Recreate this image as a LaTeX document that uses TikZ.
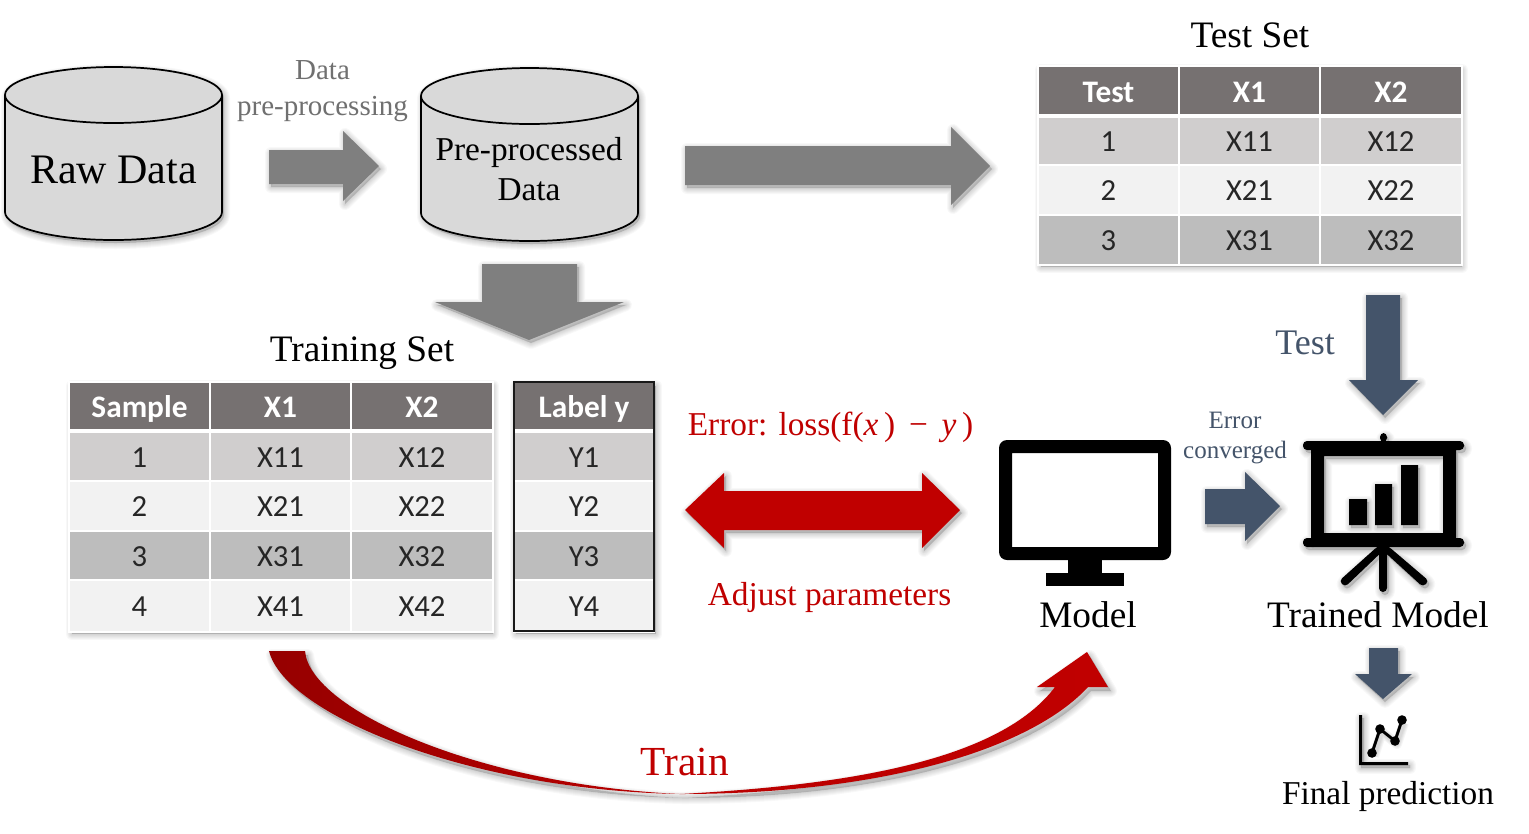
\documentclass[tikz,border=0pt]{standalone}
\usepackage{fontspec}
\setmainfont{Liberation Serif}
\newfontfamily\tablefont{Carlito}
\usetikzlibrary{calc}
\definecolor{hdr}{HTML}{767171}
\definecolor{rowa}{HTML}{D0CECE}
\definecolor{rowb}{HTML}{F2F2F2}
\definecolor{rowc}{HTML}{BDBDBD}
\definecolor{cyl}{HTML}{D9D9D9}
\definecolor{arrgray}{HTML}{7F7F7F}
\definecolor{graytext}{HTML}{707070}
\definecolor{slate}{HTML}{44546A}
\definecolor{myred}{HTML}{C00000}
\definecolor{darkred}{HTML}{960000}
\newcommand{\softshadow}[2][2,3]{\foreach \w in {12,10,8,6,4,2} {\path[draw=black,fill=black,draw opacity=.028,fill opacity=.028,line width=\w*0.75pt,line join=round,shift={(#1)}] #2;}}
\newcommand{\softline}[2][2,3]{\foreach \w in {10,8,6,4} {\path[draw=black,draw opacity=.04,line width=\w*0.75pt,line join=round,shift={(#1)}] #2;}}
\newcommand{\shapewithshadow}[2]{\softshadow{#2}\fill[#1] #2;}
\newcommand{\tcell}[7]{\path[fill=#6,draw=white,line width=1.6pt] (#2,#3) rectangle (#4,#5) node[midway,celltext] (#1) {#7};}
\newcommand{\hcell}[6]{\path[fill=hdr,draw=white,line width=1.6pt] (#2,#3) rectangle (#4,#5) node[midway,headtext] (#1) {#6};}
\tikzset{
  celltext/.style={font=\tablefont\fontsize{23pt}{26pt}\selectfont,text=black!85,inner sep=0pt,text height=14.5pt,text depth=0pt,yshift=-0.75pt},
  headtext/.style={font=\tablefont\bfseries\fontsize{23.5pt}{26pt}\selectfont,text=white,inner sep=0pt,text height=14.5pt,text depth=0pt,yshift=-1.5pt},
  title/.style={font=\fontsize{28pt}{32pt}\selectfont,inner sep=0pt,align=center},
  cyltext/.style={inner sep=0pt,align=center},
  cylshape/.style={fill=cyl,draw=black,line width=1.3pt}
}
\def\cylbody{(0,95) -- (0,212) .. controls (0,227.5) and (48.5,240) .. (108.5,240) .. controls (168.5,240) and (217,227.5) .. (217,212) -- (217,95) .. controls (217,79.5) and (168.5,67) .. (108.5,67) .. controls (48.5,67) and (0,79.5) .. (0,95) -- cycle}
\def\cyltop{(0,95) .. controls (0,110.5) and (48.5,123) .. (108.5,123) .. controls (168.5,123) and (217,110.5) .. (217,95)}
\def\arrowsmall{(269,150) -- (343,150) -- (343,131) -- (379,166) -- (343,201) -- (343,184) -- (269,184) -- cycle}
\def\arrowbig{(685,146) -- (951,146) -- (951,127) -- (990,166) -- (951,205) -- (951,185) -- (685,185) -- cycle}
\def\arrowdown{(482,264) -- (577,264) -- (577,302) -- (624,302) -- (529,340) -- (435,302) -- (482,302) -- cycle}
\def\arrowtest{(1366,295) -- (1400,295) -- (1400,380) -- (1418,380) -- (1383,415) -- (1349,380) -- (1366,380) -- cycle}
\def\arrowerr{(1205,489) -- (1245,489) -- (1245,472) -- (1280,506) -- (1245,541) -- (1245,524) -- (1205,524) -- cycle}
\def\arrowfinal{(1369,648) -- (1398,648) -- (1398,674) -- (1412,674) -- (1383,699) -- (1355,674) -- (1369,674) -- cycle}
\def\arrowdouble{(685,510) -- (724,473) -- (724,491) -- (922,491) -- (922,473) -- (960,510) -- (922,548) -- (922,530) -- (724,530) -- (724,548) -- cycle}
\def\arrowtrain{(269,651) -- (305,651) .. controls (310,710) and (480,785) .. (680,794) .. controls (850,785) and (1000,760) .. (1055,687) -- (1037,687) -- (1087,652) -- (1108,687) -- (1088,687) .. controls (1030,750) and (880,794) .. (680,794) .. controls (470,790) and (285,715) .. (269,651) -- cycle}
\def\easel{(1311,441) -- (1456,441) -- (1456,546) -- (1311,546) -- cycle (1324,456) -- (1324,533) -- (1443,533) -- (1443,456) -- cycle
 [rounded corners=3pt] (1303,441) -- (1464,441) -- (1464,450) -- (1303,450) -- cycle
 (1303,538) -- (1464,538) -- (1464,547) -- (1303,547) -- cycle
 (1380,433) -- (1387,433) -- (1387,442) -- (1380,442) -- cycle
 (1379,546) -- (1387,546) -- (1387,592) -- (1379,592) -- cycle
 (1378,546) -- (1388,546) -- (1345,587) -- (1339,581) -- cycle
 (1378,546) -- (1388,546) -- (1429,581) -- (1423,587) -- cycle
 [sharp corners] (1349,499) -- (1367,499) -- (1367,525) -- (1349,525) -- cycle
 (1375,484) -- (1392,484) -- (1392,525) -- (1375,525) -- cycle
 (1401,465) -- (1418,465) -- (1418,525) -- (1401,525) -- cycle}
\def\axes{(1359,715) -- (1362,715) -- (1362,762) -- (1408,762) -- (1408,765) -- (1359,765) -- cycle}
\begin{document}
\begin{tikzpicture}[x=0.75pt,y=-0.75pt]
\useasboundingbox (0,0) rectangle (1529,833);
\fill[white] (0,0) rectangle (1529,833);

% cylinders
\begin{scope}[shift={(5,0)}]
  \softshadow{\cylbody}
  \path[cylshape] \cylbody;
  \draw[black,line width=1.3pt] \cyltop;
  \node[cyltext,font=\fontsize{31.5pt}{36pt}\selectfont] (raw) at (108.5,170) {Raw Data};
\end{scope}
\begin{scope}[shift={(421,1)}]
  \softshadow{\cylbody}
  \path[cylshape] \cylbody;
  \draw[black,line width=1.3pt] \cyltop;
  \node[cyltext,font=\fontsize{25pt}{30pt}\selectfont] (pre) at (108,168) {Pre-processed\\Data};
\end{scope}

% gray arrows
\shapewithshadow{arrgray}{\arrowsmall}
\shapewithshadow{arrgray}{\arrowbig}
\shapewithshadow{arrgray}{\arrowdown}
\node[inner sep=0pt,align=center,text=graytext,font=\fontsize{21.75pt}{26.5pt}\selectfont] (dp) at (322.5,91) {Data\\pre-processing};

% titles
\node[title] (testtitle) at (1250,35) {Test Set};
\node[title] (traintitle) at (362,353) {Training Set};

% test table
\softshadow[2,3]{(1039,67) rectangle (1460,264)}
\hcell{t00}{1038}{66}{1179}{115}{Test}
\hcell{t01}{1179}{66}{1320}{115}{X1}
\hcell{t02}{1320}{66}{1462}{115}{X2}
\foreach \r/\ya/\yb/\c in {1/117/165/rowa,2/165/215/rowb,3/215/265/rowc} {
  \tcell{t\r0}{1038}{\ya}{1179}{\yb}{\c}{\r}
  \tcell{t\r1}{1179}{\ya}{1320}{\yb}{\c}{X\r1}
  \tcell{t\r2}{1320}{\ya}{1462}{\yb}{\c}{X\r2}
}

% training table
\softshadow[2,3]{(70,383) rectangle (491,631)}
\softshadow[2,3]{(514,383) rectangle (654,631)}
\hcell{s00}{69}{382}{210}{430}{Sample}
\hcell{s01}{210}{382}{351}{430}{X1}
\hcell{s02}{351}{382}{493}{430}{X2}
\hcell{l00}{514}{382}{654}{430}{Label y}
\foreach \r/\ya/\yb/\c in {1/432/481/rowa,2/481/531/rowb,3/531/580/rowc,4/580/632/rowb} {
  \tcell{s\r0}{69}{\ya}{210}{\yb}{\c}{\r}
  \tcell{s\r1}{210}{\ya}{351}{\yb}{\c}{X\r1}
  \tcell{s\r2}{351}{\ya}{493}{\yb}{\c}{X\r2}
  \tcell{l\r0}{514}{\ya}{654}{\yb}{\c}{Y\r}
}
\draw[black!90,line width=1.7pt] (514,382) rectangle (654,631);

% red arrows and labels
\shapewithshadow{myred}{\arrowdouble}
\node[inner sep=0pt,text=myred,font=\fontsize{25pt}{28pt}\selectfont] (err) at (830.5,427) {Error: loss(f(\textit{x}\,)\, − \,\textit{y}\,)};
\node[inner sep=0pt,text=myred,font=\fontsize{25pt}{28pt}\selectfont] (adj) at (829.5,597) {Adjust parameters};
\softshadow[3,4]{\arrowtrain}
\shade[left color=darkred,right color=myred,middle color=myred!85!darkred] \arrowtrain;
\node[inner sep=0pt,text=myred,font=\fontsize{31pt}{34pt}\selectfont] (trainlabel) at (685,762) {Train};

% model
\fill[black,even odd rule,rounded corners=6pt] (999,440) -- (1171,440) -- (1171,560) -- (999,560) -- cycle [sharp corners] (1012,453) -- (1158,453) -- (1158,547) -- (1012,547) -- cycle;
\fill[black] (1068,560) rectangle (1102,573);
\fill[black] (1046,573) rectangle (1124,586);
\node[title] (model) at (1088,615) {Model};

% slate arrows and labels
\shapewithshadow{slate}{\arrowtest}
\shapewithshadow{slate}{\arrowerr}
\shapewithshadow{slate}{\arrowfinal}
\node[inner sep=0pt,text=slate,font=\fontsize{27pt}{32pt}\selectfont] (testlabel) at (1305,343) {Test};
\node[inner sep=0pt,align=center,text=slate,font=\fontsize{18.75pt}{23pt}\selectfont] (conv) at (1235,438) {Error\\converged};

% trained model
\shapewithshadow{black}{\easel}
\node[title] (trained) at (1378,615) {Trained Model};

% chart icon
\shapewithshadow{black}{\axes}
\softline{(1372,753) -- (1380,729) -- (1395,741) -- (1402,720)}
\draw[black,line width=2.2pt,line join=round] (1372,753) -- (1380,729) -- (1395,741) -- (1402,720);
\foreach \p in {(1372,753),(1380,729),(1395,741),(1402,720)} \fill[black] \p circle[radius=3.6pt];
\node[inner sep=0pt,font=\fontsize{25pt}{28pt}\selectfont] (final) at (1388,796) {Final prediction};
\end{tikzpicture}
\end{document}
